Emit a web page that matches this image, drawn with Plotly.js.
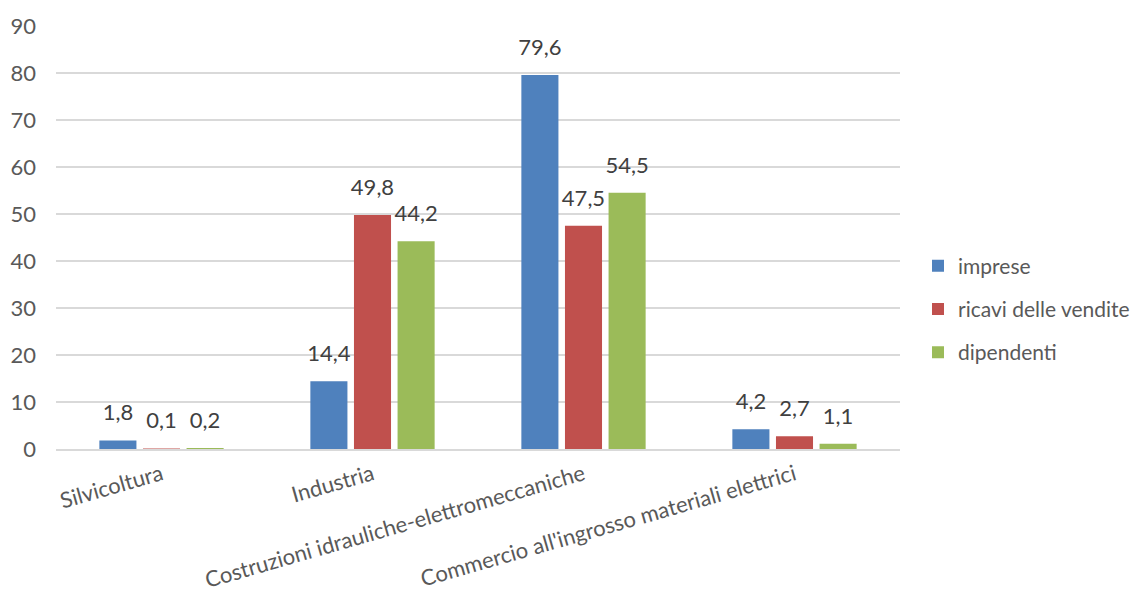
<!DOCTYPE html>
<html>
<head>
<meta charset="utf-8">
<script src="https://cdn.plot.ly/plotly-3.0.1.min.js"></script>
<style>html,body{margin:0;padding:0;background:#fff}#chart{width:1145px;height:603px}</style>
</head>
<body>
<div id="chart"></div>
<script>
const categories = ["Silvicoltura", "Industria", "Costruzioni idrauliche-elettromeccaniche", "Commercio all'ingrosso materiali elettrici"];
const seriesNames = ["imprese", "ricavi delle vendite", "dipendenti"];
const imprese = [1.8, 14.4, 79.6, 4.2];
const ricavi = [0.1, 49.8, 47.5, 2.7];
const dipendenti = [0.2, 44.2, 54.5, 1.1];
const colors = ["#4F81BD", "#C0504D", "#9BBB59"];
const yTicks = [0, 10, 20, 30, 40, 50, 60, 70, 80, 90];

const values = [imprese, ricavi, dipendenti];
const FONT = "Lato, 'Open Sans', sans-serif";
const GAP = 0.38;

const barTraces = values.map((v, i) => ({
  type: 'bar',
  name: seriesNames[i],
  x: categories,
  y: v,
  legendgroup: 'g' + i,
  offsetgroup: 'o' + i,
  marker: {color: colors[i], line: {width: 0}},
  hoverinfo: 'none'
}));

const labelTraces = values.map((v, i) => ({
  type: 'scatter',
  mode: 'markers+text',
  x: categories,
  y: v,
  offsetgroup: 'o' + i,
  showlegend: false,
  marker: {size: 22, opacity: 0, color: colors[i]},
  texttemplate: '%{y:.1f}',
  textposition: 'top center',
  textfont: {family: FONT, size: 22, color: '#404040'},
  cliponaxis: false,
  hoverinfo: 'none'
}));

const layout = {
  width: 1145, height: 603,
  margin: {l: 56, r: 245, t: 26, b: 154},
  paper_bgcolor: '#fff', plot_bgcolor: '#fff',
  separators: ',.',
  barmode: 'group',
  bargap: GAP,
  bargroupgap: 0.15,
  scattermode: 'group',
  scattergap: GAP,
  font: {family: FONT, size: 22, color: '#595959'},
  xaxis: {
    tickangle: -16,
    tickfont: {family: FONT, size: 22, color: '#595959'},
    showgrid: false, showline: true, linecolor: '#d9d9d9', linewidth: 1.5,
    ticks: '', automargin: false, ticklabelstandoff: 3
  },
  yaxis: {
    range: [0, 90], tickvals: yTicks, ticktext: yTicks.map(String),
    showgrid: true, gridcolor: '#d9d9d9', gridwidth: 1.5,
    zeroline: false, showline: false, ticks: '',
    tickfont: {family: FONT, size: 22, color: '#595959'},
    automargin: false, ticklabelstandoff: 19
  },
  legend: {
    xref: 'container', yref: 'container',
    x: 918 / 1145, xanchor: 'left', y: 1 - 309 / 603, yanchor: 'middle',
    traceorder: 'grouped', tracegroupgap: 13,
    font: {family: FONT, size: 21, color: '#595959'},
    itemwidth: 30
  },
  showlegend: true
};

Plotly.newPlot('chart', barTraces.concat(labelTraces), layout, {staticPlot: true, displayModeBar: false});
</script>
</body>
</html>
